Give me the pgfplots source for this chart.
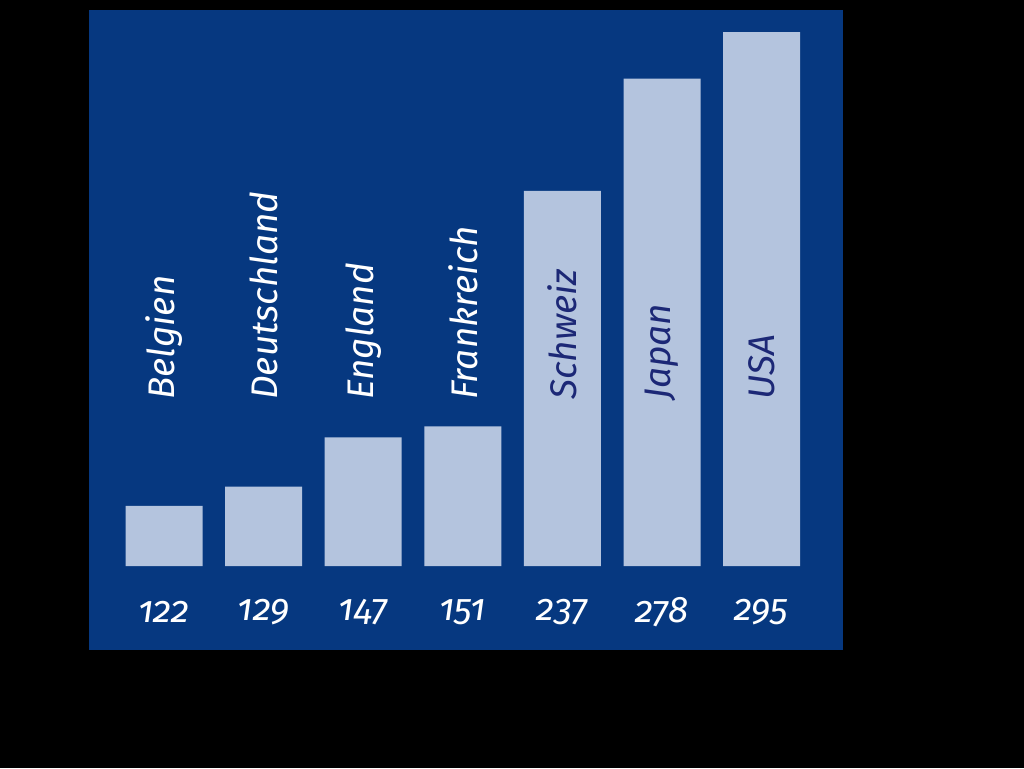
\documentclass[border=0pt]{standalone}
\usepackage{pgfplots}
\pgfplotsset{compat=1.18}
\usepackage{fontspec}
\setmainfont{Fira Sans}
\newfontfamily\labfont[Numbers=OldStyle]{Fira Sans}
\definecolor{bgblue}{RGB}{6,56,128}
\definecolor{barblue}{RGB}{180,196,222}
\definecolor{txtblue}{RGB}{28,40,118}
\tikzset{lab/.style={rotate=90, anchor=west, inner sep=0pt, font=\labfont\itshape\fontsize{18.5}{18.5}\selectfont}}
\begin{document}
\begin{tikzpicture}
\fill[black] (0,0) rectangle (512pt,384pt);
\begin{axis}[
  at={(44.5pt,59pt)}, anchor=south west,
  scale only axis, width=377pt, height=320pt,
  xmin=-0.753, xmax=6.817,
  ymin=-30.68, ymax=203.1,
  axis background/.style={fill=bgblue},
  axis line style={draw=none},
  major tick length=0pt,
  ytick=\empty,
  xtick={0,...,6},
  xticklabels={122,129,147,151,237,278,295},
  xticklabel style={anchor=center, yshift=19pt, text=white, font=\labfont\itshape\fontsize{18.5}{18.5}\selectfont},
  y filter/.expression={y-100},
  clip=false,
]
\addplot[ybar, bar width=38.5pt, fill=barblue, draw=none] coordinates {
(0,122) (1,129) (2,147) (3,151) (4,237) (5,278) (6,295)
};
\node[lab, text=white] at (axis cs:0,60.6) {Belgien};
\node[lab, text=white] at (axis cs:1,60.6) {Deutschland};
\node[lab, text=white] at (axis cs:2,60.6) {England};
\node[lab, text=white] at (axis cs:3,60.6) {Frankreich};
\node[lab, text=txtblue] at (axis cs:4,60.6) {Schweiz};
\node[lab, text=txtblue] at (axis cs:5,60.6) {Japan};
\node[lab, text=txtblue] at (axis cs:6,60.6) {USA};
\end{axis}
\end{tikzpicture}
\end{document}
